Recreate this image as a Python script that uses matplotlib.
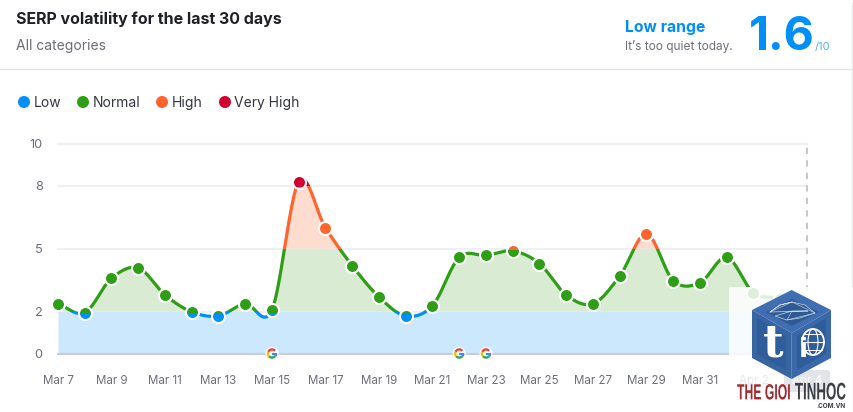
import matplotlib
matplotlib.use("Agg")
import numpy as np
import matplotlib.pyplot as plt
from matplotlib.patches import Rectangle, Polygon, Circle, Arc, Ellipse, FancyBboxPatch
from matplotlib.patheffects import AbstractPathEffect
from matplotlib.transforms import Affine2D

plt.rcParams['font.family'] = ['Inter', 'DejaVu Sans']

# daily volatility score, Mar 7 to Apr 4
days = ["Mar 7", "Mar 8", "Mar 9", "Mar 10", "Mar 11", "Mar 12", "Mar 13", "Mar 14", "Mar 15", "Mar 16",
        "Mar 17", "Mar 18", "Mar 19", "Mar 20", "Mar 21", "Mar 22", "Mar 23", "Mar 24", "Mar 25", "Mar 26",
        "Mar 27", "Mar 28", "Mar 29", "Mar 30", "Mar 31", "Apr 1", "Apr 2", "Apr 3", "Apr 4"]
scores = [2.37, 1.95, 3.58, 4.07, 2.79, 1.98, 1.79, 2.37, 2.09, 8.18,
          5.98, 4.18, 2.69, 1.79, 2.28, 4.58, 4.67, 4.88, 4.28, 2.79,
          2.37, 3.69, 5.69, 3.47, 3.37, 4.58, 2.88, 2.58, 1.6]
google_updates = ["Mar 15", "Mar 22", "Mar 23"]
y_ticks = [0, 2, 5, 8, 10]

zone_names = ["Low", "Normal", "High", "Very High"]
zone_edges = [0, 2, 5, 8, 10]
zone_colors = ["#008ff8", "#2e9e16", "#ff642d", "#d1002f"]
zone_fills = ["#cce8fd", "#d9ebd3", "#ffdcd0", "#f8ccd5"]

W, H = 854, 412
GREY = "#6c6e79"


class Tall(AbstractPathEffect):
    # stretches glyphs vertically around a fixed display height
    def __init__(self, factor, mid):
        super().__init__()
        self.factor = factor
        self.mid = mid

    def draw_path(self, renderer, gc, tpath, affine, rgbFace=None):
        stretch = Affine2D().translate(0, -self.mid).scale(1, self.factor).translate(0, self.mid)
        renderer.draw_path(gc, tpath, affine + stretch, rgbFace)


def smooth(y, steps=40):
    # cardinal spline through the daily points
    y = np.array(y, dtype=float)
    m = np.zeros(len(y))
    m[1:-1] = (y[2:] - y[:-2]) / 2
    m[0] = y[1] - y[0]
    m[-1] = y[-1] - y[-2]
    xs, ys = [], []
    for i in range(len(y) - 1):
        t = np.linspace(0, 1, steps, endpoint=False)
        ys.append((2*t**3 - 3*t**2 + 1)*y[i] + (t**3 - 2*t**2 + t)*m[i]
                  + (-2*t**3 + 3*t**2)*y[i+1] + (t**3 - t**2)*m[i+1])
        xs.append(i + t)
    xs.append(np.array([len(y) - 1.0]))
    ys.append(np.array([y[-1]]))
    return np.concatenate(xs), np.concatenate(ys)


fig = plt.figure(figsize=(W/100, H/100), dpi=100)
fig.patch.set_facecolor("white")

# plot area, 21 px per score unit
ax = fig.add_axes([58/W, 1 - 353.5/H, (807 - 58)/W, 210/H])
ax.set_xlim(0, len(days) - 1)
ax.set_ylim(0, 10)
ax.patch.set_alpha(0)
for s in ax.spines.values():
    s.set_visible(False)

for t in y_ticks[1:]:
    ax.axhline(t, color="#eeeef4", lw=1.5, zorder=1, clip_on=False)
ax.axhline(0, color="#c9cbd6", lw=1.5, zorder=4, clip_on=False)
ax.axvline(len(days) - 1, color="#c4c6d0", lw=1.5, ls=(0, (3, 3)), zorder=1, clip_on=False)

xs, ys = smooth(scores)
x_idx = np.arange(len(days))

ax.set_xticks(x_idx[::2])
ax.set_xticklabels(days[::2], fontsize=8.3, color=GREY)
ax.set_yticks(y_ticks)
ax.set_yticklabels(y_ticks, fontsize=9.2, color=GREY)
ax.tick_params(length=0)
ax.tick_params(axis='x', pad=15.5)
ax.tick_params(axis='y', pad=11)

# each zone gets its own fill, stroke and marker colour, clipped to its band
for i in range(4):
    lo, hi = zone_edges[i], zone_edges[i+1]
    top = np.clip(ys, lo, hi)
    ax.fill_between(xs, lo, top, where=ys > lo, color=zone_fills[i], lw=0, zorder=2)
    band = Rectangle((-1, lo), len(days) + 2, hi - lo, transform=ax.transData)
    if i == 0:
        band = Rectangle((-1, -1), len(days) + 2, 3, transform=ax.transData)
    line, = ax.plot(xs, ys, color=zone_colors[i], lw=2.3, zorder=5, solid_capstyle="butt")
    line.set_clip_path(band)
    pts, = ax.plot(x_idx, scores, ls="none", marker="o", ms=9.4, mfc=zone_colors[i], mec="white",
                   mew=1.5, zorder=6)
    pts.set_clip_path(band)

# page furniture is laid out in pixels on an overlay
px = fig.add_axes([0, 0, 1, 1])
px.set_xlim(0, W)
px.set_ylim(H, 0)
px.axis("off")
px.patch.set_alpha(0)

px.text(16, 19, "SERP volatility for the last 30 days", fontsize=11.5, fontweight="bold", color="#1f2027", va="center")
px.text(16, 45.5, "All categories", fontsize=10, color=GREY, va="center")
px.plot([0, 852], [69, 69], color="#e2e3ea", lw=1)
px.plot([852.5, 852.5], [3, H], color="#e8e9ee", lw=1)

px.text(625, 27, "Low range", fontsize=11.3, fontweight="bold", color="#008ff8", va="center")
px.text(625, 46, "It’s too quiet today.", fontsize=8.55, color=GREY, va="center")
px.text(748.5, 37.5, "1.6", fontsize=33.5, fontweight="bold", color="#008ff8", va="center")
px.text(815, 46.5, "/10", fontsize=8.2, color="#5aaef5", va="center")

legend_x = [24, 83, 162, 225]
for name, col, lx in zip(zone_names, zone_colors, legend_x):
    px.add_patch(Circle((lx, 102), 6, color=col, lw=0))
    px.text(lx + 9.5, 102.5, name, fontsize=10, color="#333540", va="center")

# Google update flags on the baseline
angles = [(-40, 0, "#4285f4"), (-140, -40, "#34a853"), (-205, -140, "#fbbc05"), (-320, -205, "#ea4335")]
for day in google_updates:
    gx = 58 + days.index(day) * 749 / (len(days) - 1)
    gy = 353.5
    px.add_patch(Circle((gx, gy), 6.5, color="white", lw=0, zorder=7))
    for a0, a1, c in angles:
        a = np.radians(np.linspace(a0, a1, 12))
        px.plot(gx + 4.1*np.cos(a), gy - 4.1*np.sin(a), color=c, lw=1.7, zorder=8, solid_capstyle="butt")
    px.plot([gx, gx + 4.6], [gy, gy], color="#4285f4", lw=1.5, zorder=8, solid_capstyle="butt")

# site watermark over the corner
px.add_patch(Rectangle((729, 287), W - 729, 125, color="white", alpha=0.84, lw=0, zorder=9))
px.add_patch(FancyBboxPatch((784, 370), 46, 22, boxstyle="round,pad=0,rounding_size=3", color="#e3e4e8", lw=0, zorder=10))
px.text(807, 381, "Apr 4", fontsize=8.3, color="white", ha="center", va="center", zorder=11)

cx, cy = 791.7, 333
top_v, ur, lr, bot, ll, ul = (cx, 290), (831, 310), (831, 358), (cx, 379), (752, 358), (752, 310)
px.add_patch(Polygon([top_v, ur, (cx, cy), ul], color="#3f6eb3", lw=0, zorder=12))
px.add_patch(Polygon([ul, (cx, cy), bot, ll], color="#36659f", lw=0, zorder=12))
px.add_patch(Polygon([ur, lr, bot, (cx, cy)], color="#3a69aa", lw=0, zorder=12))
px.add_patch(Polygon([(cx, 299), (819, 312), (cx, 326), (766, 312)], color="#2f5a94", lw=0, zorder=13))
px.add_patch(Polygon([(757, 318), (786, 336), (786, 370), (757, 354)], color="#2f5d9c", lw=0, zorder=13))
px.add_patch(Polygon([(826, 318), (797, 336), (797, 370), (826, 354)], color="#2f5d9c", lw=0, zorder=13))
net_x = [770, 780, 792, 805, 815, 800, 787, 775, 792, 808]
net_y = [312, 305, 302, 305, 313, 318, 320, 316, 311, 311]
px.plot(net_x + net_x[:3], net_y + net_y[:3], color="#c9d8ea", lw=0.5, zorder=14)
px.plot(net_x[::2], net_y[::2], color="#c9d8ea", lw=0.4, zorder=14)
px.text(773, 344, "t", fontsize=32, fontweight="bold", family="DejaVu Serif", color="white", ha="center", va="center", zorder=15)
px.text(803, 350, "i", fontsize=19, fontweight="bold", family="DejaVu Sans", color="white", ha="center", va="center", zorder=15)
px.add_patch(Ellipse((813, 342), 22, 26, fc="none", ec="white", lw=1.3, zorder=15))
px.add_patch(Ellipse((813, 342), 10, 26, fc="none", ec="white", lw=0.8, zorder=15))
px.plot([802, 824], [342, 342], color="white", lw=0.8, zorder=15)
px.plot([804, 822], [334, 334], color="white", lw=0.7, zorder=15)
px.plot([804, 822], [350, 350], color="white", lw=0.7, zorder=15)

# logo wordmark, drawn tall and narrow
mid = H - 394
for text, tx, ha, size, col in [("THE GIOI", 737, "left", 8.8, "#a32a30"), ("TINHOC", 846, "right", 9.6, "#3b3f47")]:
    label = px.text(tx, 394, text, fontsize=size, fontweight="bold", family="Liberation Sans", color=col,
                    va="center", ha=ha, zorder=15)
    label.set_path_effects([Tall(1.8, mid)])
px.text(846, 405.5, ".COM.VN", fontsize=4.6, fontweight="bold", color="#3b3f47", va="center", ha="right", zorder=15)

fig.savefig("out.png", dpi=100)
